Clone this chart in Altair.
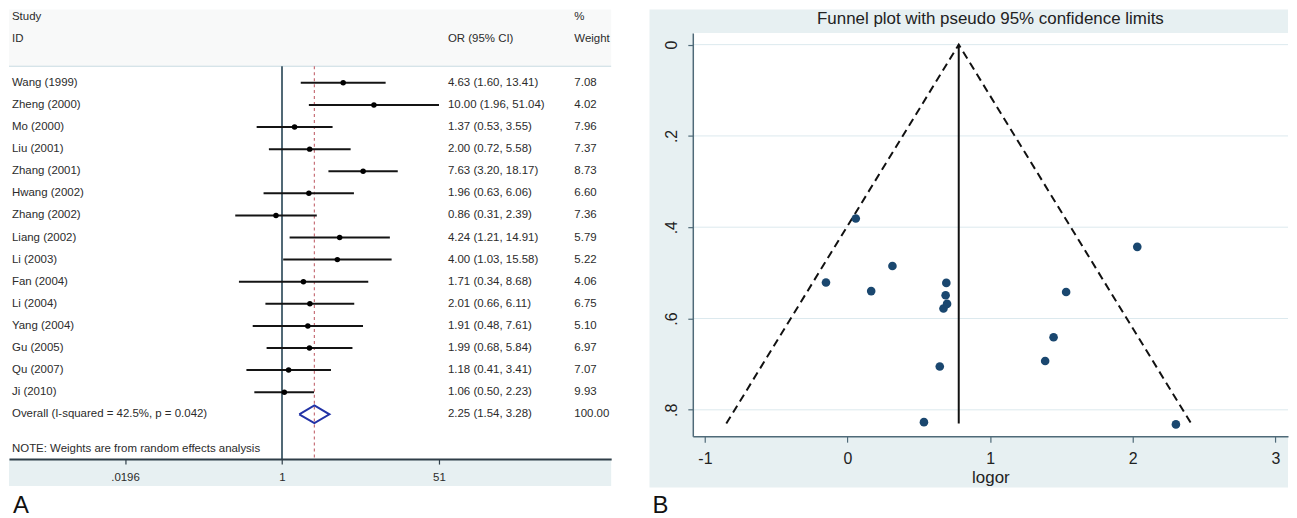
import altair as alt
import pandas as pd

FONT = "Liberation Sans"

# ---------------- Forest plot data (panel A) ----------------
studies = ["Wang (1999)", "Zheng (2000)", "Mo (2000)", "Liu (2001)", "Zhang (2001)",
           "Hwang (2002)", "Zhang (2002)", "Liang (2002)", "Li (2003)", "Fan (2004)",
           "Li (2004)", "Yang (2004)", "Gu (2005)", "Qu (2007)", "Ji (2010)"]
odds = [4.63, 10.00, 1.37, 2.00, 7.63, 1.96, 0.86, 4.24, 4.00, 1.71, 2.01, 1.91, 1.99, 1.18, 1.06]
ci_low = [1.60, 1.96, 0.53, 0.72, 3.20, 0.63, 0.31, 1.21, 1.03, 0.34, 0.66, 0.48, 0.68, 0.41, 0.50]
ci_high = [13.41, 51.04, 3.55, 5.58, 18.17, 6.06, 2.39, 14.91, 15.58, 8.68, 6.11, 7.61, 5.84, 3.41, 2.23]
weights = [7.08, 4.02, 7.96, 7.37, 8.73, 6.60, 7.36, 5.79, 5.22, 4.06, 6.75, 5.10, 6.97, 7.07, 9.93]

overall_label = "Overall  (I-squared = 42.5%, p = 0.042)"
overall_or = 2.25
overall_low = 1.54
overall_high = 3.28
overall_weight = 100.00

note_text = "NOTE: Weights are from random effects analysis"
header_study = ["Study", "ID"]
header_or = "OR (95% CI)"
header_weight = ["%", "Weight"]
forest_ticks = [0.0196, 1, 51]
forest_tick_labels = [".0196", "1", "51"]

# ---------------- Funnel plot data (panel B) ----------------
logor = [1.533, 2.303, 0.315, 0.693, 2.032, 0.673, -0.151, 1.445, 1.386, 0.536,
         0.698, 0.647, 0.688, 0.166, 0.058]
se_logor = [0.542, 0.832, 0.485, 0.522, 0.443, 0.578, 0.521, 0.641, 0.693, 0.827,
            0.568, 0.705, 0.549, 0.540, 0.381]
funnel_x = [-0.85, 0.78, 2.41]
funnel_y = [0.83, 0.0, 0.83]
funnel_title = "Funnel plot with pseudo 95% confidence limits"
funnel_xticks = [-1, 0, 1, 2, 3]
funnel_xtick_labels = ["-1", "0", "1", "2", "3"]
funnel_yticks = [0, 0.2, 0.4, 0.6, 0.8]
funnel_ytick_labels = ["0", ".2", ".4", ".6", ".8"]


def label_expr(values, labels):
    e = "''"
    for v, l in reversed(list(zip(values, labels))):
        e = f"(abs(datum.value - ({v})) < 1e-9 ? '{l}' : {e})"
    return e


# ================= Panel A: forest plot =================
FW, FH = 605, 428
TOP = 33.3          # top edge of the white study region inside the panel
TXT = "#2b2b2b"
AXC = "#2f3e48"

rows = list(range(1, len(studies) + 1))
overall_row = len(studies) + 1

study_df = pd.DataFrame({"study": studies, "or": odds, "lo": ci_low, "hi": ci_high, "row": rows})
text_df = pd.DataFrame({
    "label": studies + [overall_label],
    "ci_text": [f"{o:.2f} ({l:.2f}, {h:.2f})" for o, l, h in zip(odds, ci_low, ci_high)]
    + [f"{overall_or:.2f} ({overall_low:.2f}, {overall_high:.2f})"],
    "w_text": [f"{w:.2f}" for w in weights] + [f"{overall_weight:.2f}"],
    "row": rows + [overall_row],
})
half = 0.4
diamond_df = pd.DataFrame({
    "x": [overall_low, overall_or, overall_high, overall_or, overall_low],
    "row": [overall_row, overall_row - half, overall_row, overall_row + half, overall_row],
    "ord": [0, 1, 2, 3, 4],
})
one = pd.DataFrame({"k": [0]})
ref_df = pd.DataFrame({"x": [1.0]})
ov_df = pd.DataFrame({"x": [overall_or]})

FX_SCALE = alt.Scale(type="log", domain=[0.001071, 3813], nice=False)
FY_SCALE = alt.Scale(domain=[-1.252, 18.027], nice=False, zero=False, reverse=True)
FX_AXIS = alt.Axis(values=forest_ticks, labelExpr=label_expr(forest_ticks, forest_tick_labels),
                   title=None, grid=False, domainColor=AXC, domainWidth=2, tickColor=AXC,
                   tickWidth=1.2, tickSize=5, labelFontSize=11.5, labelColor=TXT, labelFont=FONT,
                   labelPadding=8, labelFlush=False, labelOverlap=False, zindex=1)


def fx(field):
    return alt.X(field, type="quantitative", scale=FX_SCALE, axis=FX_AXIS)


def fy(field):
    return alt.Y(field, type="quantitative", scale=FY_SCALE, axis=None)


header_band = alt.Chart(one).mark_rect(color="#f8f9f9").encode(
    x=alt.value(0), x2=alt.value(FW), y=alt.value(-23.7), y2=alt.value(TOP))
white_band = alt.Chart(one).mark_rect(color="#ffffff").encode(
    x=alt.value(0), x2=alt.value(FW), y=alt.value(TOP), y2=alt.value(FH))
axis_band = alt.Chart(one).mark_rect(color="#e7f0f2").encode(
    x=alt.value(0), x2=alt.value(FW), y=alt.value(FH), y2=alt.value(FH + 27))
sep_line = alt.Chart(one).mark_rule(color="#c8dbe2", strokeWidth=1.2).encode(
    x=alt.value(0), x2=alt.value(FW), y=alt.value(TOP))
ref_line = alt.Chart(ref_df).mark_rule(color="#3d5866", strokeWidth=1.8).encode(
    x=fx("x"), y=alt.value(TOP), y2=alt.value(FH))
ov_line = alt.Chart(ov_df).mark_rule(color="#c77078", strokeWidth=1.2, strokeDash=[3, 3]).encode(
    x=fx("x"), y=alt.value(TOP), y2=alt.value(FH))
ci_rules = alt.Chart(study_df).mark_rule(color="#141414", strokeWidth=2).encode(
    x=fx("lo"), x2="hi", y=fy("row"))
pts = alt.Chart(study_df).mark_circle(color="#000000", size=30, opacity=1).encode(
    x=fx("or"), y=fy("row"))
diamond = alt.Chart(diamond_df).mark_line(color="#2233a6", strokeWidth=2).encode(
    x=fx("x"), y=fy("row"), order="ord:Q")

tkw = dict(font=FONT, fontSize=11.5, color=TXT, align="left", baseline="middle")
lab_txt = alt.Chart(text_df).mark_text(**tkw).encode(x=alt.value(3), y=fy("row"), text="label:N")
ci_txt = alt.Chart(text_df).mark_text(**tkw).encode(x=alt.value(441), y=fy("row"), text="ci_text:N")
w_txt = alt.Chart(text_df).mark_text(**tkw).encode(x=alt.value(568), y=fy("row"), text="w_text:N")
h1 = alt.Chart(one).mark_text(**tkw).encode(x=alt.value(3), y=alt.value(-15.7), text=alt.value(header_study[0]))
h2 = alt.Chart(one).mark_text(**tkw).encode(x=alt.value(3), y=alt.value(6.3), text=alt.value(header_study[1]))
h3 = alt.Chart(one).mark_text(**tkw).encode(x=alt.value(441), y=alt.value(6.3), text=alt.value(header_or))
h4 = alt.Chart(one).mark_text(**tkw).encode(x=alt.value(568), y=alt.value(-15.7), text=alt.value(header_weight[0]))
h5 = alt.Chart(one).mark_text(**tkw).encode(x=alt.value(568), y=alt.value(6.3), text=alt.value(header_weight[1]))
note = alt.Chart(one).mark_text(**tkw).encode(x=alt.value(3), y=alt.value(418.3), text=alt.value(note_text))
lab_a = alt.Chart(one).mark_text(font=FONT, fontSize=24, color="#111", align="left", baseline="middle").encode(
    x=alt.value(4), y=alt.value(475), text=alt.value("A"))

forest = alt.layer(header_band, white_band, axis_band, sep_line, ref_line, ov_line, ci_rules, pts, diamond,
                   lab_txt, ci_txt, w_txt, h1, h2, h3, h4, h5, note, lab_a).properties(width=FW, height=FH)

# ================= Panel B: funnel plot =================
UW, UH = 598, 405
UAX = "#4f6a78"
pts_df = pd.DataFrame({"logor": logor, "se": se_logor})
fun_df = pd.DataFrame({"x": funnel_x, "y": funnel_y, "ord": [0, 1, 2]})
center_df = pd.DataFrame({"x": [funnel_x[1]], "y": [funnel_y[1]], "y2": [funnel_y[0]]})
grid_df = pd.DataFrame({"y": funnel_yticks})

UX_SCALE = alt.Scale(domain=[-1.085, 3.089], nice=False, zero=False)
UY_SCALE = alt.Scale(domain=[-0.0253, 0.8578], nice=False, zero=False, reverse=True)
UX_AXIS = alt.Axis(values=funnel_xticks, labelExpr=label_expr(funnel_xticks, funnel_xtick_labels),
                   title="logor", titleFont=FONT, titleFontSize=17, titleFontWeight="normal",
                   titleColor="#222", titlePadding=4, labelFont=FONT, labelFontSize=16,
                   labelColor="#222", labelPadding=8, tickSize=6, tickColor=UAX, tickWidth=1.2,
                   domainColor=UAX, domainWidth=1.5, grid=False, labelFlush=False,
                   labelOverlap=False, zindex=1)
UY_AXIS = alt.Axis(values=funnel_yticks, labelExpr=label_expr(funnel_yticks, funnel_ytick_labels),
                   title=None, labelFont=FONT, labelFontSize=16, labelColor="#222",
                   labelAngle=270, labelAlign="center", labelBaseline="bottom", labelPadding=8,
                   tickSize=5, tickColor=UAX, tickWidth=1.2, domainColor=UAX, domainWidth=1.5,
                   grid=False, labelFlush=False, labelOverlap=False, zindex=1)


def ux(field):
    return alt.X(field, type="quantitative", scale=UX_SCALE, axis=UX_AXIS)


def uy(field):
    return alt.Y(field, type="quantitative", scale=UY_SCALE, axis=UY_AXIS)


u_bg = alt.Chart(one).mark_rect(color="#e7f0f2").encode(
    x=alt.value(-43.5), x2=alt.value(UW), y=alt.value(-23.7), y2=alt.value(UH + 51.5))
u_white = alt.Chart(one).mark_rect(color="#ffffff").encode(
    x=alt.value(0), x2=alt.value(UW), y=alt.value(0), y2=alt.value(UH))
u_grid = alt.Chart(grid_df).mark_rule(color="#dce9ee", strokeWidth=1).encode(y=uy("y"))
u_fun = alt.Chart(fun_df).mark_line(color="#111111", strokeWidth=2, strokeDash=[8, 5]).encode(
    x=ux("x"), y=uy("y"), order="ord:Q")
u_center = alt.Chart(center_df).mark_rule(color="#111111", strokeWidth=2).encode(
    x=ux("x"), y=uy("y"), y2="y2")
u_pts = alt.Chart(pts_df).mark_circle(color="#1a476f", size=75, opacity=1).encode(
    x=ux("logor"), y=uy("se"))
u_title = alt.Chart(one).mark_text(font=FONT, fontSize=17, color="#222", align="center",
                                   baseline="middle").encode(
    x=alt.value(UW / 2), y=alt.value(-13.7), text=alt.value(funnel_title))
lab_b = alt.Chart(one).mark_text(font=FONT, fontSize=24, color="#111", align="left", baseline="middle").encode(
    x=alt.value(-40.5), y=alt.value(475), text=alt.value("B"))

funnel = alt.layer(u_bg, u_white, u_grid, u_fun, u_center, u_pts, u_title, lab_b).properties(width=UW, height=UH)

chart = alt.hconcat(forest, funnel, spacing=37).properties(
    padding={"left": 0, "top": 0, "right": 0, "bottom": 0}
).configure(background="#ffffff", font=FONT).configure_view(strokeWidth=0)

chart.save("out.html", embed_options={"renderer": "svg", "actions": False})
